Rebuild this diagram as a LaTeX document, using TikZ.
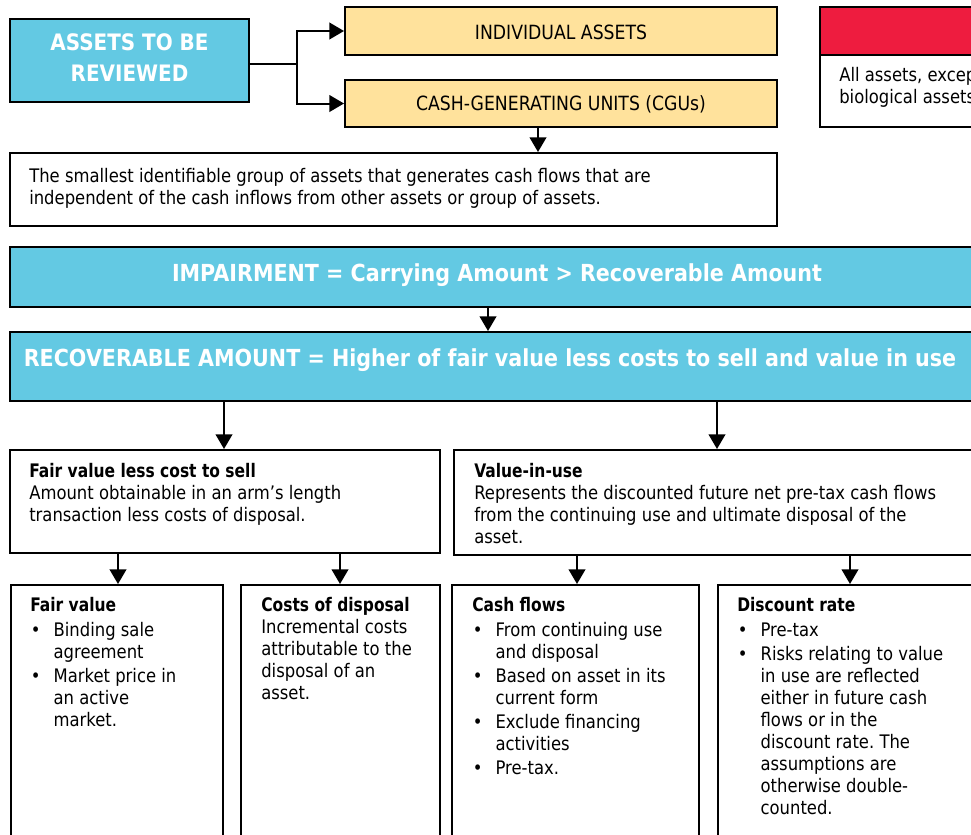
\documentclass[tikz,border=0pt]{standalone}
\usepackage{fontspec}
\setmainfont[FakeStretch=0.88]{DejaVu Sans}
\newfontfamily\bodyfont[FakeStretch=0.88, BoldFeatures={FakeStretch=0.83}]{DejaVu Sans}
\usetikzlibrary{arrows.meta,fit,calc}
\definecolor{cblue}{HTML}{63C9E3}
\definecolor{corange}{HTML}{FFE29C}
\definecolor{cred}{HTML}{EE1C3F}
\newcommand\bul{\makebox[17.5pt][l]{\hspace{0.5pt}\textbullet}}
\newcommand\ind{\hspace*{17.5pt}}
\frenchspacing
\begin{document}
\begin{tikzpicture}[x=0.75pt,y=-0.75pt,
  box/.style={draw=black, line width=1.5pt, inner sep=0pt, rectangle},
  arr/.style={line width=1.5pt, -{Triangle[length=11pt,width=12.5pt]}},
  body/.style={font=\bodyfont\fontsize{14}{16.5}\selectfont\frenchspacing, inner sep=0pt, anchor=north west, align=left},
  wtitle/.style={text=white, font=\bfseries\fontsize{17}{23.5}\selectfont, align=center, inner sep=0pt},
  btitle/.style={text=white, font=\bfseries\fontsize{17.6}{20}\selectfont, inner sep=0pt},
  ctitle/.style={font=\fontsize{14.7}{17}\selectfont, inner sep=0pt},
]
\useasboundingbox (0,0) rectangle (971,835);
\clip (0,0) rectangle (971,835);

% top section
\node[box, fill=cblue, fit={(10,19) (249,102)}] (assets) {};
\node[wtitle] (assetsT) at ($(assets.center)+(0,-3)$) {ASSETS TO BE\\REVIEWED};
\node[box, fill=corange, fit={(345,7) (777,55)}] (indiv) {};
\node[ctitle] (indivT) at ($(indiv.center)+(0,1)$) {INDIVIDUAL ASSETS};
\node[box, fill=corange, fit={(345,80) (777,127)}] (cgu) {};
\node[ctitle] (cguT) at ($(cgu.center)+(0,1)$) {CASH-GENERATING UNITS (CGUs)};
\node[box, fill=white, fit={(10,153) (777,226)}] (def) {};
\node[body] (defT) at ([shift={(20,16)}]def.north west) {The smallest identifiable group of assets that generates cash flows that are\\independent of the cash inflows from other assets or group of assets.};

% red box
\node[box, fill=cred, fit={(820,7) (1000,55)}] (redtop) {};
\node[box, fill=white, fit={(820,55) (1000,127)}] (redbot) {};
\node[body] (redT) at ([shift={(20,13)}]redbot.north west) {All assets, except\\biological assets};

% impairment and recoverable
\node[box, fill=cblue, fit={(10,247) (1000,307)}] (imp) {};
\node[btitle] (impT) at (497,275) {IMPAIRMENT = Carrying Amount > Recoverable Amount};
\node[box, fill=cblue, fit={(10,332) (1000,401)}] (rec) {};
\node[btitle] (recT) at (490,360) {RECOVERABLE AMOUNT = Higher of fair value less costs to sell and value in use};

% middle boxes
\node[box, fill=white, fit={(10,450) (440,553)}] (fv) {};
\node[body] (fvT) at ([shift={(20,14)}]fv.north west) {\textbf{Fair value less cost to sell}\\Amount obtainable in an arm’s length\\transaction less costs of disposal.};
\node[box, fill=white, fit={(454,450) (1000,555)}] (viu) {};
\node[body] (viuT) at ([shift={(21,14)}]viu.north west) {\textbf{Value-in-use}\\Represents the discounted future net pre-tax cash flows\\from the continuing use and ultimate disposal of the\\asset.};

% bottom boxes
\node[box, fill=white, fit={(11,585) (223,860)}] (fair) {};
\node[body] (fairT) at ([shift={(20,13)}]fair.north west) {\textbf{Fair value}\\[2pt]\bul Binding sale\\\ind agreement\\[1.5pt]\bul Market price in\\\ind an active\\\ind market.};
\node[box, fill=white, fit={(241,585) (440,860)}] (cost) {};
\node[body] (costT) at ([shift={(21,13)}]cost.north west) {\textbf{Costs of disposal}\\Incremental costs\\attributable to the\\disposal of an\\asset.};
\node[box, fill=white, fit={(452,585) (699,860)}] (cash) {};
\node[body] (cashT) at ([shift={(21,13)}]cash.north west) {\textbf{Cash flows}\\[2pt]\bul From continuing use\\\ind and disposal\\[1.5pt]\bul Based on asset in its\\\ind current form\\[1.5pt]\bul Exclude financing\\\ind activities\\[1.5pt]\bul Pre-tax.};
\node[box, fill=white, fit={(718,585) (1000,860)}] (disc) {};
\node[body] (discT) at ([shift={(20,13)}]disc.north west) {\textbf{Discount rate}\\[2pt]\bul Pre-tax\\[1.5pt]\bul Risks relating to value\\\ind in use are reflected\\\ind either in future cash\\\ind flows or in the\\\ind discount rate. The\\\ind assumptions are\\\ind otherwise double-\\\ind counted.};

% connectors
\coordinate (br) at (297,64);
\draw[line width=1.2pt] (assets.east |- br) -- (br);
\draw[arr] (br) |- (indiv.west);
\draw[arr] (br) |- (cgu.west);
\coordinate (c1) at (538,0);
\draw[arr] (cgu.south -| c1) -- (def.north -| c1);
\coordinate (c2) at (488,0);
\draw[arr] (imp.south -| c2) -- (rec.north -| c2);
\coordinate (c3) at (224,0);
\draw[arr] (rec.south -| c3) -- (fv.north -| c3);
\coordinate (c4) at (717,0);
\draw[arr] (rec.south -| c4) -- (viu.north -| c4);
\coordinate (c5) at (118,0);
\draw[arr] (fv.south -| c5) -- (fair.north -| c5);
\coordinate (c6) at (340,0);
\draw[arr] (fv.south -| c6) -- (cost.north -| c6);
\coordinate (c7) at (577,0);
\draw[arr] (viu.south -| c7) -- (cash.north -| c7);
\coordinate (c8) at (850,0);
\draw[arr] (viu.south -| c8) -- (disc.north -| c8);
\end{tikzpicture}
\end{document}
